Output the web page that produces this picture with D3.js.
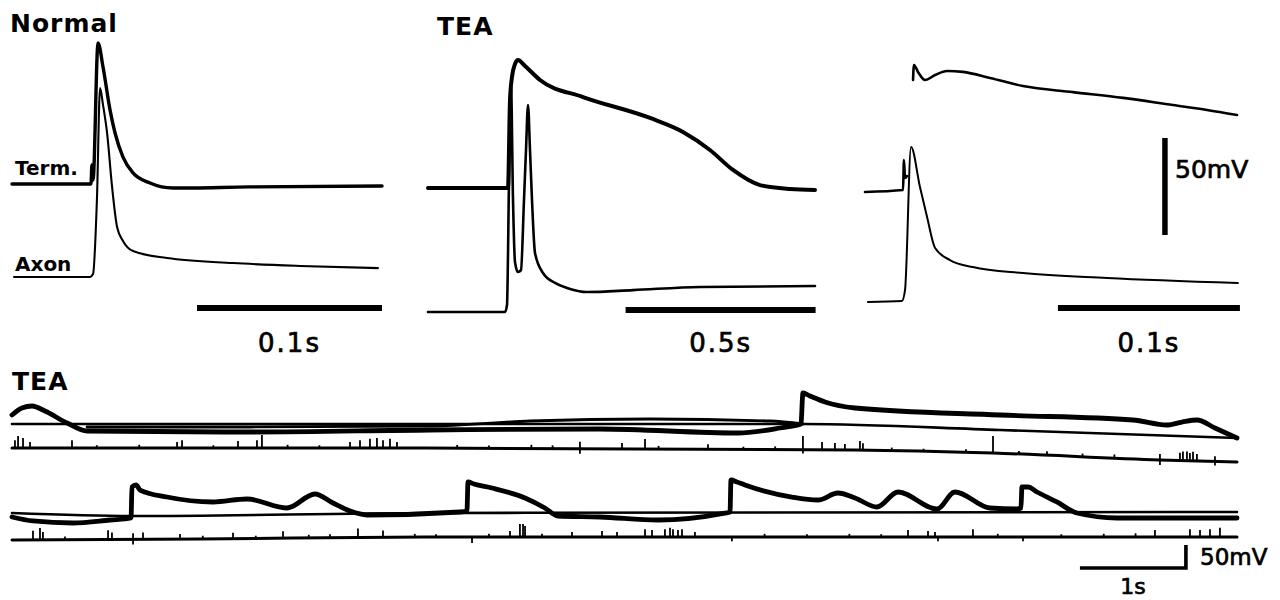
<!DOCTYPE html>
<html>
<head>
<meta charset="utf-8">
<script src="https://cdn.jsdelivr.net/npm/d3@7/dist/d3.min.js"></script>
<style>
    body { margin: 0; background: #fff; }
    text { font-family: "DejaVu Sans", sans-serif; fill: #000; }
    text.med { stroke: #000; stroke-width: 0.7; }
</style>
</head>
<body>
<svg id="fig" width="1280" height="600"></svg>
<script>
// ---- top panels: [time ms, mV above rest] ----
const normalTerm = [[0,0],[42.7,0],[43.2,9.8],[43.8,2],[46.5,72.7],[49.2,60.3],[53,38.1],[55.7,26.3],[60,13.9],[65.4,5.7],[74.6,0.5],[87,-2.1],[128.6,-1.5],[200,-1]];
const normalAxon = [[1.1,0],[42.2,0],[43.8,1.5],[45.9,39.7],[47.6,97.4],[49.2,88.7],[51.4,74.2],[54.1,46.4],[56.8,25.8],[60,18.6],[65.4,13.4],[83.8,9.8],[119.5,7.2],[155.7,5.7],[197.8,4.6]];

const teaTerm = [[0,0],[210.5,0],[215.8,45.4],[221,57.2],[229,63.9],[236.8,66],[255.3,62.9],[294.7,55.7],[407.9,46.9],[584.2,36.1],[671,28.9],[742,19.6],[802.6,9.3],[873.7,1.5],[952.6,-0.5],[1018.4,-1]];
const teaAxon = [[0,0],[202.6,0],[207.9,3.6],[213.2,68],[218.4,117],[223.7,57.7],[228.9,25.8],[236.8,20.6],[244.7,21.6],[252.6,57.7],[257.9,83.5],[263.2,106.7],[268.4,83.5],[273.7,57.7],[281.6,30.4],[302.6,20.1],[334.2,15],[365.8,12.4],[418.4,10.3],[539.5,11.3],[715.8,12.9],[1018.4,13.4]];

// third panel: terminal sweep has an unrecorded rising phase (null = gap)
const term3 = [[0,0],[20.9,1],[21.4,16.5],[22,7.2],[23.1,8.2],null,[26.4,57.7],[26.9,65.5],[29.1,61.9],[33,57.7],[38.5,60.3],[45.1,62.4],[53.8,61.9],[68.7,58.8],[86.8,54.6],[114.3,51.5],[141.8,48.5],[169.2,44.8],[187.9,42.3],[204.4,39.7]];
const axon3 = [[1.6,0],[20.3,0.5],[22,6.2],[25.3,79.9],[30.2,59.3],[34.1,43.8],[38.5,27.8],[46.7,21.6],[59.3,18],[86.8,14.9],[133,12.4],[204.9,9.8]];

// scale bars of the top panels (ms)
const barSpans = [[100,200],[520,1020],[106,206]];
const barLabels = ["0.1s","0.5s","0.1s"];
const voltBar = [0, 50];   // mV
const voltBarTime = 164.8; // ms, in third panel

// ---- bottom long recordings: [time s, mV] ----
const row1Thick = [[0,19.6],[0.094,34.8],[0.189,39.1],[0.311,28.3],[0.519,2.2],[0.708,-15.2],[2.245,-17.4],[3.943,-13],[5.547,-10.9],[6.849,-19.6],[7.245,-8.7],[7.443,0],[7.462,67.4],[7.528,60.9],[7.67,47.8],[7.953,34.8],[9.321,19.6],[10.575,8.7],[10.896,-2.2],[11.038,4.3],[11.179,8.7],[11.349,-8.7],[11.557,-30.4]];
const row1Base = [[0,0],[3.66,0],[7.462,0],[9.321,-13],[11.557,-30.4]];
const row1Mid = [[0.708,-6.5],[2.245,-6.5],[3.943,-4.3],[4.887,6.5],[6.019,10.9],[7.151,6.5],[7.462,0]];

const row2Thick = [[0,-4.3],[0.198,-13],[0.575,-17.4],[0.925,-10.9],[1.123,-6.5],[1.132,60.9],[1.17,65.2],[1.208,54.3],[1.462,39.1],[1.896,28.3],[2.217,34.8],[2.594,15.2],[2.858,45.7],[3.028,26.1],[3.189,8.7],[3.349,0],[4.226,6.5],[4.292,8.7],[4.302,71.7],[4.358,67.4],[4.528,58.7],[4.84,37],[5.028,15.2],[5.151,-2.2],[5.547,-4.3],[6.094,-10.9],[6.726,4.3],[6.774,6.5],[6.783,76.1],[6.84,71.7],[6.915,65.2],[7.358,39.1],[7.604,32.6],[7.792,47.8],[7.953,37],[8.16,17.4],[8.358,50],[8.726,13],[8.896,50],[9.226,15.2],[9.481,13],[9.519,15.2],[9.528,60.9],[9.585,60.9],[9.67,50],[9.858,28.3],[10.047,4.3],[10.425,-6.5],[11.557,-6.5]];
const row2Base = [[0,4.3],[1.132,-2.2],[3.943,4.3],[11.557,6.5]];

// lower (noisy) channel: drifting baseline + spikes [time s, height mV]
const noise1Base = [[0,0],[3.896,0],[7.953,-4.3],[9.255,-10.9],[10.83,-26.1],[11.557,-30.4]];
const noise1Spikes = [[0.028,17],[0.057,26],[0.104,22],[0.17,13],[0.566,17],[0.8,6],[1.2,7],[1.557,13],[1.604,17],[1.9,6],[2.132,15],[2.311,17],[2.358,28],[2.6,7],[2.9,6],[3.189,13],[3.283,17],[3.377,20],[3.443,22],[3.5,17],[3.566,20],[3.632,13],[4.2,7],[4.5,6],[4.9,8],[5.1,7],[5.358,15],[5.358,-11],[5.755,13],[5.972,22],[6.1,7],[6.566,11],[6.9,6],[7.2,7],[7.462,30],[7.462,-8],[7.642,17],[7.764,15],[7.858,13],[8,20],[8.028,15],[8.3,7],[8.6,6],[9.0,7],[9.255,37],[9.5,7],[9.764,9],[10.1,7],[10.4,8],[10.83,13],[10.83,-11],[11.019,17],[11.047,20],[11.085,20],[11.113,17],[11.142,20],[11.179,15],[11.349,11],[11.349,-9]];
const noise2Base = [[0,-6.5],[1.774,-4.3],[3.896,0],[7.953,0],[11.557,0]];
const noise2Spikes = [[0.198,20],[0.264,26],[0.292,17],[0.5,7],[0.906,20],[0.943,15],[1.142,13],[1.142,-11],[1.236,15],[1.585,11],[1.8,7],[2.085,13],[2.3,6],[2.557,15],[2.8,7],[3.0,8],[3.264,20],[3.5,15],[3.8,7],[4.0,6],[4.34,-13],[4.5,7],[4.698,13],[4.792,28],[4.821,28],[4.84,24],[5.0,7],[5.283,11],[5.566,13],[5.708,11],[5.972,17],[6.038,15],[6.16,17],[6.208,20],[6.236,17],[6.283,15],[6.321,17],[6.443,11],[6.792,-9],[7.1,7],[7.5,6],[7.9,7],[8.2,6],[8.453,15],[8.642,13],[8.708,11],[8.736,-9],[9.066,17],[9.3,7],[9.538,-9],[9.9,6],[10.3,7],[10.6,8],[10.783,15],[11.113,17],[11.208,15],[11.302,17],[11.396,20]];

const longBarTime = [10.075, 11.075]; // s
const longBarVolt = [0, 50];           // mV

// ---------------------------------------------------------------
const svg = d3.select("#fig");
const TOP_MV = 97 / 50;   // px per mV, top panels
const LOW_MV = 23 / 50;   // px per mV, long recordings

function yRest(rest, pxPerMv) {
    return d3.scaleLinear().domain([0, 50]).range([rest, rest - 50 * pxPerMv]);
}

function drawTrace(data, x, y, width) {
    const line = d3.line()
        .defined(d => d)
        .x(d => x(d[0]))
        .y(d => y(d[1]))
        .curve(d3.curveMonotoneX);
    svg.append("path")
        .datum(data)
        .attr("d", line)
        .attr("fill", "none")
        .attr("stroke", "#000")
        .attr("stroke-width", width)
        .attr("stroke-linejoin", "round")
        .attr("stroke-linecap", "round");
}

function hBar(x, t0, t1, yPos, w) {
    svg.append("line")
        .attr("x1", x(t0)).attr("x2", x(t1))
        .attr("y1", yPos).attr("y2", yPos)
        .attr("stroke", "#000").attr("stroke-width", w);
}

// top panel time scales
const xPanels = [
    d3.scaleLinear().domain([0, 200]).range([12, 382]),
    d3.scaleLinear().domain([0, 1020]).range([428, 428 + 1020 * 0.38]),
    d3.scaleLinear().domain([0, 206]).range([865, 865 + 206 * 1.82])
];

drawTrace(normalTerm, xPanels[0], yRest(184, TOP_MV), 3.4);
drawTrace(normalAxon, xPanels[0], yRest(277, TOP_MV), 2.1);
drawTrace(teaTerm, xPanels[1], yRest(188, TOP_MV), 4);
drawTrace(teaAxon, xPanels[1], yRest(312, TOP_MV), 2.6);
drawTrace(term3, xPanels[2], yRest(192, TOP_MV), 2.6);
drawTrace(axon3, xPanels[2], yRest(302, TOP_MV), 2);

const barY = [308, 310, 308];
barSpans.forEach((s, i) => {
    hBar(xPanels[i], s[0], s[1], barY[i], 6);
    svg.append("text")
        .attr("class", "med")
        .attr("x", xPanels[i]((s[0] + s[1]) / 2))
        .attr("y", 352)
        .attr("text-anchor", "middle")
        .attr("font-size", 26)
        .attr("letter-spacing", 2)
        .text(barLabels[i]);
});

// vertical 50mV bar
const yVolt = yRest(235, TOP_MV);
svg.append("line")
    .attr("x1", xPanels[2](voltBarTime)).attr("x2", xPanels[2](voltBarTime))
    .attr("y1", yVolt(voltBar[0])).attr("y2", yVolt(voltBar[1]))
    .attr("stroke", "#000").attr("stroke-width", 5.5);
svg.append("text").attr("class", "med").attr("x", 1175).attr("y", 178)
    .attr("font-size", 25).text("50mV");

// titles and labels
svg.append("text").attr("x", 10).attr("y", 32).attr("letter-spacing", 1)
    .attr("font-size", 25).attr("font-weight", "bold").text("Normal");
svg.append("text").attr("x", 437).attr("y", 35).attr("letter-spacing", 1)
    .attr("font-size", 25).attr("font-weight", "bold").text("TEA");
svg.append("text").attr("x", 15).attr("y", 175)
    .attr("font-size", 20).attr("font-weight", "bold").text("Term.");
svg.append("text").attr("x", 15).attr("y", 271)
    .attr("font-size", 20).attr("font-weight", "bold").text("Axon");
svg.append("text").attr("x", 12).attr("y", 390).attr("letter-spacing", 1)
    .attr("font-size", 25).attr("font-weight", "bold").text("TEA");

// ---- long recordings ----
const xLong = d3.scaleLinear().domain([0, 11.557]).range([12, 1237]);

function drawNoise(base, spikes, rest) {
    const y = yRest(rest, LOW_MV);
    drawTrace(base, xLong, y, 3);
    const baseAt = d3.scaleLinear().domain(base.map(d => d[0])).range(base.map(d => d[1]));
    svg.append("g")
        .selectAll("line")
        .data(spikes)
        .enter()
        .append("line")
            .attr("x1", d => xLong(d[0]))
            .attr("x2", d => xLong(d[0]))
            .attr("y1", d => y(baseAt(d[0])))
            .attr("y2", d => y(baseAt(d[0]) + d[1]))
            .attr("stroke", "#000")
            .attr("stroke-width", 1.8);
}

drawTrace(row1Base, xLong, yRest(424, LOW_MV), 2.6);
drawTrace(row1Mid, xLong, yRest(424, LOW_MV), 2.8);
drawTrace(row1Thick, xLong, yRest(424, LOW_MV), 4.8);
drawNoise(noise1Base, noise1Spikes, 448);

drawTrace(row2Base, xLong, yRest(515, LOW_MV), 2.6);
drawTrace(row2Thick, xLong, yRest(515, LOW_MV), 4.8);
drawNoise(noise2Base, noise2Spikes, 537);

// L-shaped scale bar
const yLong = yRest(568, LOW_MV);
svg.append("path")
    .attr("d", d3.line()([
        [xLong(longBarTime[0]), yLong(longBarVolt[0])],
        [xLong(longBarTime[1]), yLong(longBarVolt[0])],
        [xLong(longBarTime[1]), yLong(longBarVolt[1])]
    ]))
    .attr("fill", "none")
    .attr("stroke", "#000")
    .attr("stroke-width", 3.6);
svg.append("text").attr("class", "med").attr("x", 1200).attr("y", 565)
    .attr("font-size", 23).text("50mV");
svg.append("text").attr("class", "med").attr("x", xLong((longBarTime[0] + longBarTime[1]) / 2)).attr("y", 594)
    .attr("text-anchor", "middle").attr("font-size", 22).text("1s");
</script>
</body>
</html>
